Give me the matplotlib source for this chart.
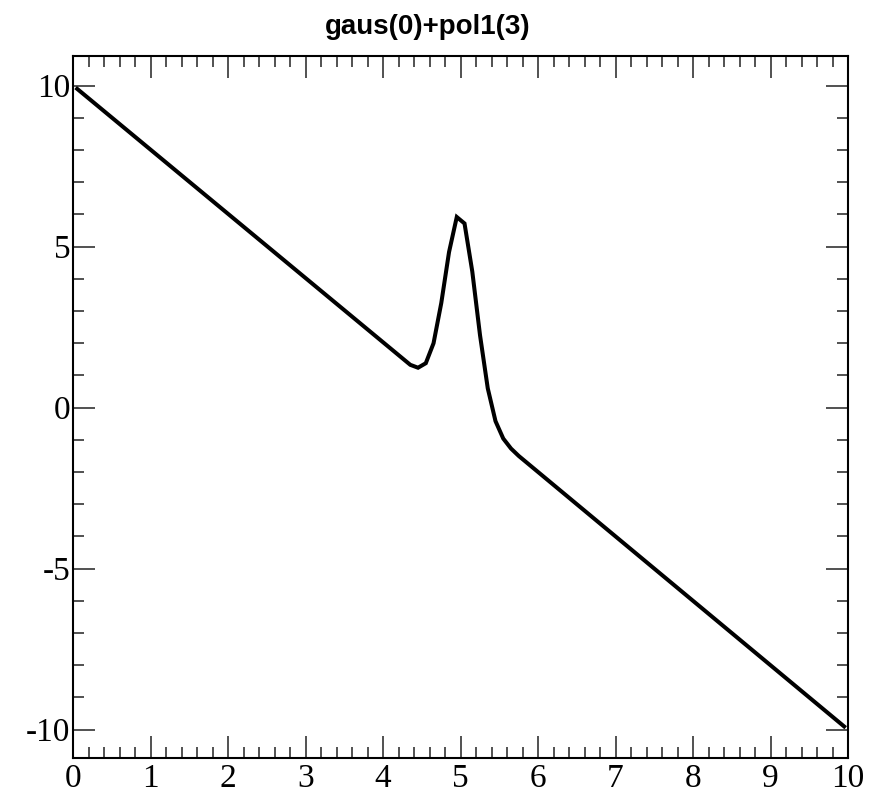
import matplotlib
matplotlib.use("Agg")
import matplotlib.pyplot as plt
from matplotlib.ticker import MultipleLocator

plt.rcParams["axes.unicode_minus"] = False

# points (x, y)
curve_x = [0.05, 4.35, 4.45, 4.55, 4.65, 4.75, 4.85, 4.95, 5.05, 5.15,
           5.25, 5.35, 5.45, 5.55, 5.65, 5.75, 9.95]
curve_y = [9.9, 1.33, 1.24, 1.38, 2.0, 3.25, 4.83, 5.92, 5.72, 4.23,
           2.25, 0.6, -0.42, -0.96, -1.27, -1.5, -9.9]

title = "gaus(0)+pol1(3)"
x_range = (0, 10)
y_range = (-10.88, 10.93)

fig = plt.figure(figsize=(8.84, 7.89), dpi=100)
ax = fig.add_axes([73.3 / 884, 1 - 758 / 789, (848 - 73.3) / 884, (758 - 55.7) / 789])

ax.plot(curve_x, curve_y, color="black", lw=2.9, solid_joinstyle="miter")

ax.set_xlim(*x_range)
ax.set_ylim(*y_range)

ax.xaxis.set_major_locator(MultipleLocator(1))
ax.xaxis.set_minor_locator(MultipleLocator(0.2))
ax.yaxis.set_major_locator(MultipleLocator(5))
ax.yaxis.set_minor_locator(MultipleLocator(1))

ax.tick_params(which="both", direction="in", top=True, right=True, width=1.1, color="#222222")
ax.tick_params(which="major", length=16)
ax.tick_params(which="minor", length=8)
ax.tick_params(axis="x", pad=4)
ax.tick_params(axis="y", pad=2)

for lab in ax.get_xticklabels() + ax.get_yticklabels():
    lab.set_fontfamily("Liberation Serif")
    lab.set_fontsize(24)

for sp in ax.spines.values():
    sp.set_linewidth(1.5)

fig.text(427.5 / 884, 1 - 27 / 789, title, ha="center", va="center",
         fontsize=20, fontweight="bold", family="Liberation Sans")

fig.savefig("out.png", dpi=100)
